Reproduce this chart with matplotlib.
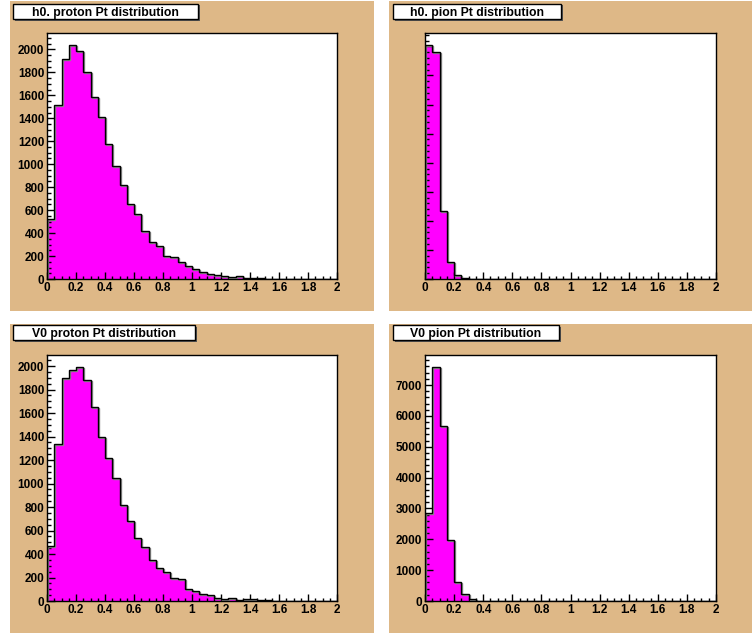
import numpy as np
import matplotlib
matplotlib.use("Agg")
import matplotlib.pyplot as plt
from matplotlib.patches import Rectangle
from matplotlib.ticker import MultipleLocator, FuncFormatter, NullFormatter
import matplotlib.transforms as mtransforms

plt.rcParams['font.family'] = ['Liberation Sans', 'DejaVu Sans']
plt.rcParams['font.weight'] = 'bold'

# ---------------- data ----------------
pt_min, pt_max, n_bins = 0.0, 2.0, 40

titles = ["h0. proton Pt distribution", "h0. pion Pt distribution",
          "V0 proton Pt distribution", "V0 pion Pt distribution"]

h0_proton = [525, 1512, 1919, 2041, 1986, 1802, 1587, 1407, 1172, 985,
             820, 654, 567, 421, 323, 291, 204, 192, 148, 110,
             87, 58, 44, 35, 26, 17, 26, 9, 12, 5,
             4, 3, 2, 2, 1, 1, 1, 0, 0, 1]

h0_pion = [16117, 15607, 4667, 1149, 253, 90, 30, 10, 5, 3,
           2, 1, 1, 0, 0, 0, 0, 0, 0, 0,
           0, 0, 0, 0, 0, 0, 0, 0, 0, 0,
           0, 0, 0, 0, 0, 0, 0, 0, 0, 0]

v0_proton = [467, 1336, 1900, 1962, 1994, 1877, 1654, 1396, 1218, 1045,
             816, 677, 533, 456, 351, 283, 244, 198, 184, 105,
             82, 59, 48, 28, 17, 28, 11, 17, 14, 8,
             5, 3, 3, 2, 1, 1, 1, 0, 1, 0]

v0_pion = [2841, 7593, 5671, 1987, 626, 216, 54, 15, 5, 3,
           2, 1, 1, 0, 0, 0, 0, 0, 0, 0,
           0, 0, 0, 0, 0, 0, 0, 0, 0, 0,
           0, 0, 0, 0, 0, 0, 0, 0, 0, 0]

series = [h0_proton, h0_pion, v0_proton, v0_pion]
y_major = [200, 2000, 200, 1000]
y_minor = [50, 400, 50, 200]
show_y_labels = [True, False, True, True]

# ---------------- layout (pixels) ----------------
W, H = 752, 633
TAN = '#deb887'
MAG = '#ff00ff'

fig = plt.figure(figsize=(W / 100, H / 100), dpi=100)
fig.patch.set_facecolor('white')


def frect(x0, y0, x1, y1, **kw):
    r = Rectangle((x0 / W, 1 - y1 / H), (x1 - x0) / W, (y1 - y0) / H,
                  transform=fig.transFigure, **kw)
    fig.add_artist(r)
    return r

pads = [(10, 1, 374, 311), (389, 1, 752, 311), (10, 324, 374, 633), (389, 324, 752, 633)]
frames = [(47, 33, 337, 279), (425, 33, 716, 279), (47, 355, 337, 601), (425, 355, 716, 601)]
tboxes = [(13, 4, 198, 19), (393, 4, 561, 19), (13, 325, 195, 340), (393, 325, 559, 340)]

for p in pads:
    frect(*p, facecolor=TAN, edgecolor='none', zorder=0)

edges = np.linspace(pt_min, pt_max, n_bins + 1)
px = 72 / 100  # points per pixel

for i in range(4):
    x0, y0, x1, y1 = frames[i]
    ax = fig.add_axes([x0 / W, 1 - y1 / H, (x1 - x0) / W, (y1 - y0) / H])
    ax.set_facecolor('white')
    vals = np.array(series[i], dtype=float)
    ax.stairs(vals, edges, fill=True, color=MAG, zorder=1)
    shadow = ax.transData + mtransforms.ScaledTranslation(1 / 100, -1 / 100, fig.dpi_scale_trans)
    ax.stairs(vals, edges, color='#8a8a8a', lw=1.0, transform=shadow, zorder=2)
    ax.stairs(vals, edges, color='black', lw=1.0, zorder=3)
    ax.set_xlim(pt_min, pt_max)
    ax.set_ylim(0, 1.05 * vals.max())
    for s in ax.spines.values():
        s.set_linewidth(1.0)
        s.set_color('black')
        s.set_zorder(4)
    ax.xaxis.set_major_locator(MultipleLocator(0.2))
    ax.xaxis.set_minor_locator(MultipleLocator(0.05))
    ax.yaxis.set_major_locator(MultipleLocator(y_major[i]))
    ax.yaxis.set_minor_locator(MultipleLocator(y_minor[i]))
    ax.xaxis.set_major_formatter(FuncFormatter(lambda v, p: f"{round(v, 1):g}"))
    if show_y_labels[i]:
        ax.yaxis.set_major_formatter(FuncFormatter(lambda v, p: f"{int(round(v))}"))
    else:
        ax.yaxis.set_major_formatter(NullFormatter())
    ax.tick_params(axis='both', which='both', direction='in', top=False, right=False,
                   width=1.0, color='black', labelsize=8.5, labelcolor='black')
    ax.tick_params(axis='x', which='major', length=7 * px, pad=2.0)
    ax.tick_params(axis='x', which='minor', length=3.5 * px)
    ax.tick_params(axis='y', which='major', length=8 * px, pad=2)
    ax.tick_params(axis='y', which='minor', length=4 * px)
    for lab in ax.get_xticklabels() + ax.get_yticklabels():
        lab.set_fontweight('bold')

    # title box
    bx0, by0, bx1, by1 = tboxes[i]
    frect(bx0 + 1.5, by0 + 1.5, bx1 + 1.5, by1 + 1.5, facecolor='#555555', edgecolor='none', zorder=5)
    frect(bx0, by0, bx1, by1, facecolor='white', edgecolor='black', lw=1.0, zorder=6)
    fig.text((bx0 + bx1) / 2 / W, 1 - (by0 + by1) / 2 / H, titles[i], ha='center', va='center_baseline',
             fontsize=8.8, fontweight='bold', color='black', zorder=7)

fig.savefig('out.png', dpi=100)
